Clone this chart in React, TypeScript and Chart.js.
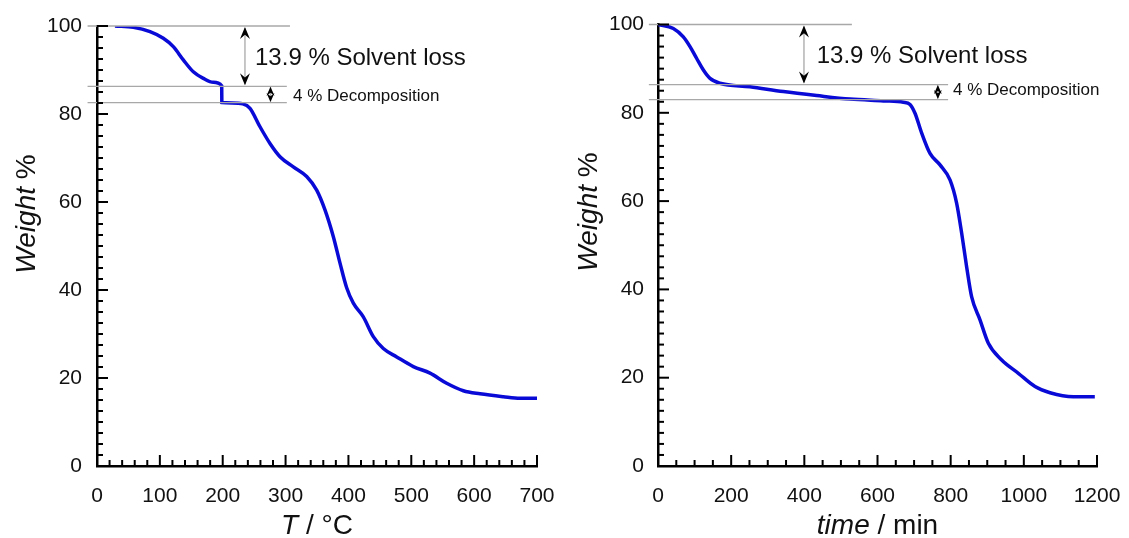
import React, { useEffect, useRef } from "react";
import { Chart, registerables } from "chart.js";

Chart.register(...registerables);

// ---------- DATA ----------
const tempC = [28.6, 57.8, 84.3, 105.5, 121.4, 137.3, 153.2, 169.1, 185, 198.4, 198.6, 215, 232, 243.4, 259.3, 275.2, 291.1, 312.3, 333.6, 349.5, 362.7, 376, 386.6, 397.2, 407.8, 423.7, 439.6, 455.5, 476.8, 503.2, 529.8, 556.3, 582.8, 609.3, 646.4, 672.9, 700];
const weightVsTemp = [100, 99.7, 98.7, 97.2, 95.3, 92.3, 89.6, 88.1, 87.2, 86.4, 82.6, 82.5, 82.3, 81.3, 77.1, 73.3, 70.3, 68.0, 65.8, 62.7, 58.2, 52.1, 46.1, 40.5, 37.0, 33.9, 29.4, 26.7, 24.8, 22.6, 21.1, 18.8, 17.1, 16.4, 15.75, 15.4, 15.4];

const timeMin = [0, 41.9, 69.2, 87.5, 105.8, 124, 142.2, 169.5, 251.5, 342.6, 433.7, 524.9, 616, 670.7, 688.9, 702.5, 720.8, 743.5, 770.9, 798.2, 816.4, 830.1, 843.7, 857.4, 880.2, 903, 939.5, 985, 1030.6, 1071.6, 1135.4, 1194];
const weightVsTime = [100, 99.1, 97.2, 95, 92.3, 89.7, 87.8, 86.7, 85.9, 84.8, 83.9, 83.1, 82.7, 82.4, 81.9, 79.9, 75.4, 70.8, 68.2, 64.8, 59.5, 52.7, 45.1, 38.3, 33.1, 27.8, 24, 21, 18, 16.6, 15.7, 15.7];

const solventLossLabel = "13.9 % Solvent loss";
const decompositionLabel = "4 % Decomposition";
const levelsTemp = [100, 86.3, 82.6];
const levelsTime = [100, 86.4, 83.0];

const FONT = '"Liberation Sans", Arial, Helvetica, sans-serif';
const LINE_COLOR = "rgb(10,10,215)";

// ---------- PLUGINS ----------
const innerTicks = {
  id: "innerTicks",
  afterDraw(chart: any, _a: any, o: any) {
    const { ctx, chartArea } = chart;
    const x = chart.scales.x;
    const y = chart.scales.y;
    ctx.save();
    ctx.strokeStyle = "#000";
    ctx.lineWidth = 2;
    const n1 = Math.round((x.max - x.min) / o.xMinor);
    for (let i = 0; i <= n1; i++) {
      const v = x.min + i * o.xMinor;
      const major = Math.abs(v / o.xMajor - Math.round(v / o.xMajor)) < 1e-6;
      const px = x.getPixelForValue(v);
      ctx.beginPath();
      ctx.moveTo(px, chartArea.bottom);
      ctx.lineTo(px, chartArea.bottom - (major ? 11 : 6));
      ctx.stroke();
    }
    const n2 = Math.round((y.max - y.min) / o.yMinor);
    for (let i = 0; i <= n2; i++) {
      const v = y.min + i * o.yMinor;
      const major = Math.abs(v / o.yMajor - Math.round(v / o.yMajor)) < 1e-6;
      const py = y.getPixelForValue(v);
      ctx.beginPath();
      ctx.moveTo(chartArea.left, py);
      ctx.lineTo(chartArea.left + (major ? 11 : 6), py);
      ctx.stroke();
    }
    ctx.restore();
  },
};

function arrowHead(ctx: any, x: number, yTip: number, dir: number, len: number, half: number) {
  // dir -1: pointing up, +1: pointing down
  ctx.beginPath();
  ctx.moveTo(x, yTip);
  ctx.lineTo(x - half, yTip - dir * len);
  ctx.lineTo(x, yTip - dir * len * 0.65);
  ctx.lineTo(x + half, yTip - dir * len);
  ctx.closePath();
  ctx.fill();
}

const annotations = {
  id: "tgaAnnotations",
  afterDatasetsDraw(chart: any, _a: any, o: any) {
    const { ctx } = chart;
    const x = chart.scales.x;
    const y = chart.scales.y;
    const [l0, l1, l2] = o.levels;
    const y0 = y.getPixelForValue(l0);
    const y1 = y.getPixelForValue(l1);
    const y2 = y.getPixelForValue(l2);
    ctx.save();
    ctx.strokeStyle = "#a8a8a8";
    ctx.lineWidth = 1.3;
    const hl = (yy: number, x1: number, x2: number) => {
      ctx.beginPath();
      ctx.moveTo(x.getPixelForValue(x1), yy);
      ctx.lineTo(x.getPixelForValue(x2), yy);
      ctx.stroke();
    };
    hl(y0, o.lineStart, o.topEnd);
    hl(y1, o.lineStart, o.midEnd);
    hl(y2, o.lineStart, o.midEnd);
    // big arrow
    const ax = x.getPixelForValue(o.bigArrowX);
    ctx.beginPath();
    ctx.moveTo(ax, y0 + 2);
    ctx.lineTo(ax, y1 - 2);
    ctx.stroke();
    ctx.fillStyle = "#000";
    arrowHead(ctx, ax, y0 + 1, -1, 12, 5);
    arrowHead(ctx, ax, y1 - 1, 1, 12, 5);
    // small arrow
    const sx = x.getPixelForValue(o.smallArrowX);
    ctx.beginPath();
    ctx.moveTo(sx, y1 + 1);
    ctx.lineTo(sx, y2 - 1);
    ctx.stroke();
    arrowHead(ctx, sx, y1 + 0.5, -1, 9, 4);
    arrowHead(ctx, sx, y2 - 0.5, 1, 9, 4);
    // texts
    ctx.fillStyle = "#111";
    ctx.textBaseline = "middle";
    ctx.textAlign = "left";
    ctx.font = `24px ${FONT}`;
    ctx.fillText(o.bigText, x.getPixelForValue(o.bigTextX), y.getPixelForValue(o.bigTextY));
    ctx.font = `17px ${FONT}`;
    ctx.fillText(o.smallText, x.getPixelForValue(o.smallTextX), y.getPixelForValue(o.smallTextY));
    ctx.restore();
  },
};

function drawMixed(ctx: any, parts: { t: string; i: boolean }[], size: number) {
  let total = 0;
  const widths = parts.map((p) => {
    ctx.font = `${p.i ? "italic " : ""}${size}px ${FONT}`;
    const w = ctx.measureText(p.t).width;
    total += w;
    return w;
  });
  let cx = -total / 2;
  parts.forEach((p, k) => {
    ctx.font = `${p.i ? "italic " : ""}${size}px ${FONT}`;
    ctx.fillText(p.t, cx, 0);
    cx += widths[k];
  });
}

const axisTitles = {
  id: "axisTitles",
  afterDraw(chart: any, _a: any, o: any) {
    const { ctx, chartArea } = chart;
    ctx.save();
    ctx.fillStyle = "#111";
    ctx.textAlign = "left";
    ctx.textBaseline = "alphabetic";
    ctx.save();
    ctx.translate((chartArea.left + chartArea.right) / 2, o.xTitleBaseline);
    drawMixed(ctx, o.xTitle, 28);
    ctx.restore();
    ctx.save();
    ctx.translate(o.yTitleBaseline, o.yTitleCenter);
    ctx.rotate(-Math.PI / 2);
    drawMixed(ctx, o.yTitle, 28);
    ctx.restore();
    ctx.restore();
  },
};

// ---------- PANEL ----------
type PanelProps = {
  left: number;
  width: number;
  xs: number[];
  ys: number[];
  xMax: number;
  xStep: number;
  xMinor: number;
  yAxisWidth: number;
  rightPad: number;
  topPad: number;
  yTickPad: number;
  ann: any;
  titles: any;
};

function Panel(p: PanelProps) {
  const ref = useRef<HTMLCanvasElement>(null);
  useEffect(() => {
    if (!ref.current) return;
    const tickFont = { family: FONT, size: 21 };
    const chart = new Chart(ref.current, {
      type: "line",
      data: {
        datasets: [
          {
            data: p.xs.map((v, i) => ({ x: v, y: p.ys[i] })),
            borderColor: LINE_COLOR,
            borderWidth: 3.5,
            pointRadius: 0,
            cubicInterpolationMode: "monotone",
            fill: false,
          },
        ],
      },
      options: {
        responsive: false,
        animation: false,
        events: [],
        layout: { padding: { top: p.topPad, right: p.rightPad, left: 0, bottom: 0 } },
        plugins: {
          legend: { display: false },
          tooltip: { enabled: false },
          innerTicks: { xMajor: p.xStep, xMinor: p.xMinor, yMajor: 20, yMinor: 2.5 },
          tgaAnnotations: p.ann,
          axisTitles: p.titles,
        } as any,
        scales: {
          x: {
            type: "linear",
            min: 0,
            max: p.xMax,
            ticks: {
              stepSize: p.xStep,
              padding: 18,
              font: tickFont,
              color: "#111",
              maxRotation: 0,
              autoSkip: false,
              callback: (v: any) => String(v),
            },
            grid: { display: false, drawTicks: false },
            border: { display: true, color: "#000", width: 2.5 },
            afterFit: (s: any) => {
              s.height = 72;
              s.paddingLeft = 0;
              s.paddingRight = 0;
            },
          },
          y: {
            type: "linear",
            min: 0,
            max: 100,
            ticks: { stepSize: 20, padding: p.yTickPad, font: tickFont, color: "#111", callback: (v: any) => String(v) },
            grid: { display: false, drawTicks: false },
            border: { display: true, color: "#000", width: 2.5 },
            afterFit: (s: any) => {
              s.width = p.yAxisWidth;
              s.paddingTop = 0;
              s.paddingBottom = 0;
            },
          },
        },
      } as any,
      plugins: [innerTicks, annotations, axisTitles],
    });
    return () => chart.destroy();
  }, []);
  return (
    <div style={{ position: "absolute", left: p.left, top: 0, width: p.width, height: 538 }}>
      <canvas ref={ref} width={p.width} height={538} style={{ display: "block" }} />
    </div>
  );
}

export default function App() {
  return (
    <div style={{ position: "fixed", left: 0, top: 0, width: 1129, height: 538, background: "#fff" }}>
      <Panel
        left={0}
        width={560}
        xs={tempC}
        ys={weightVsTemp}
        xMax={700}
        xStep={100}
        xMinor={20}
        yAxisWidth={97}
        rightPad={23}
        topPad={26}
        yTickPad={15}
        ann={{
          levels: levelsTemp,
          lineStart: -15,
          topEnd: 307,
          midEnd: 302,
          bigArrowX: 235.4,
          smallArrowX: 276,
          bigText: solventLossLabel,
          bigTextX: 251.4,
          bigTextY: 92.7,
          smallText: decompositionLabel,
          smallTextX: 311.8,
          smallTextY: 84.1,
        }}
        titles={{
          xTitle: [
            { t: "T", i: true },
            { t: " / °C", i: false },
          ],
          yTitle: [
            { t: "Weight", i: true },
            { t: " %", i: false },
          ],
          xTitleBaseline: 534,
          yTitleBaseline: 35,
          yTitleCenter: 214,
        }}
      />
      <Panel
        left={560}
        width={569}
        xs={timeMin}
        ys={weightVsTime}
        xMax={1200}
        xStep={200}
        xMinor={50}
        yAxisWidth={98}
        rightPad={32}
        topPad={24.5}
        yTickPad={14}
        ann={{
          levels: levelsTime,
          lineStart: -25,
          topEnd: 530,
          midEnd: 793,
          bigArrowX: 399,
          smallArrowX: 765,
          bigText: solventLossLabel,
          bigTextX: 433.8,
          bigTextY: 92.7,
          smallText: decompositionLabel,
          smallTextX: 806.4,
          smallTextY: 85.0,
        }}
        titles={{
          xTitle: [
            { t: "time", i: true },
            { t: " / min", i: false },
          ],
          yTitle: [
            { t: "Weight", i: true },
            { t: " %", i: false },
          ],
          xTitleBaseline: 534,
          yTitleBaseline: 37,
          yTitleCenter: 212,
        }}
      />
    </div>
  );
}
